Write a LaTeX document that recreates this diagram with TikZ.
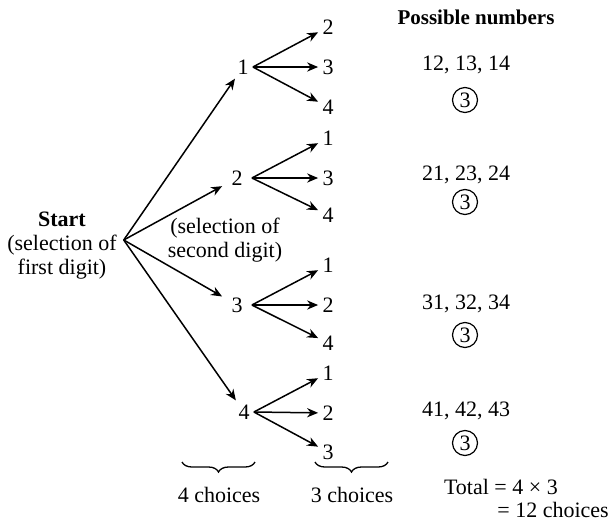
\documentclass[tikz,border=0pt]{standalone}
\usepackage{fontspec}
\setmainfont{Liberation Serif}
\usepackage{tikz}
\usetikzlibrary{arrows.meta,decorations.pathreplacing}

\begin{document}
\begin{tikzpicture}[x=0.5pt,y=-0.5pt,
  every node/.style={font=\fontsize{11}{12}\selectfont},
  dig/.style={inner sep=2pt},
  ring/.style={draw,circle,line width=0.6pt,minimum size=12.5pt,inner sep=0pt},
  arr/.style={-{Stealth[length=5.5pt,width=4.6pt]},line width=0.75pt},
  brc/.style={decorate,decoration={brace,mirror,amplitude=5pt},line width=0.65pt}]
 \useasboundingbox (0,0) rectangle (610,520);
 \node[align=center] (start) at (62,246) {\textbf{Start}\\(selection of\\first digit)};
 \coordinate (root) at ([yshift=3pt]start.east);
 \node[align=center] (sel2) at (225,240) {(selection of\\second digit)};
 % first digit
 \node[dig] (a1) at (243,67) {1};
 \node[dig,inner xsep=4.5pt] (a2) at (237,178) {2};
 \node[dig,inner xsep=4.5pt] (a3) at (237,305) {3};
 \node[dig] (a4) at (244,412) {4};
 \draw[arr] (root) -- (a1);  \draw[arr] (root) -- (a2);
 \draw[arr] (root) -- (a3);  \draw[arr] (root) -- (a4);
 % second digit
 \node[dig] (b11) at (328,27) {2};   \node[dig] (b12) at (328,67) {3};   \node[dig] (b13) at (328,107) {4};
 \node[dig] (b21) at (328,138) {1};  \node[dig] (b22) at (328,178) {3};  \node[dig] (b23) at (328,215) {4};
 \node[dig] (b31) at (328,265) {1};  \node[dig] (b32) at (328,305) {2};  \node[dig] (b33) at (328,343) {4};
 \node[dig] (b41) at (328,373) {1};  \node[dig] (b42) at (328,413) {2};  \node[dig] (b43) at (328,452) {3};
 \draw[arr] (a1.east) -- (b11);  \draw[arr] (a1.east) -- (b12);  \draw[arr] (a1.east) -- (b13);
 \draw[arr] (a2.east) -- (b21);  \draw[arr] (a2.east) -- (b22);  \draw[arr] (a2.east) -- (b23);
 \draw[arr] (a3.east) -- (b31);  \draw[arr] (a3.east) -- (b32);  \draw[arr] (a3.east) -- (b33);
 \draw[arr] (a4.east) -- (b41);  \draw[arr] (a4.east) -- (b42);  \draw[arr] (a4.east) -- (b43);
 % possible numbers
 \node[font=\fontsize{10.5}{12}\selectfont\bfseries] (head) at (476,17) {Possible numbers};
 \node (num1) at (466,65) {12, 13, 14};   \node[ring] (cnt1) at (465,100) {3};
 \node (num2) at (466,175) {21, 23, 24};  \node[ring] (cnt2) at (465,202) {3};
 \node (num3) at (466,304) {31, 32, 34};  \node[ring] (cnt3) at (465,335) {3};
 \node (num4) at (466,411) {41, 42, 43};  \node[ring] (cnt4) at (465,443) {3};
 % choices
 \draw[brc] (182,462) -- (255,462);
 \draw[brc] (315,462) -- (388,462);
 \node (ch1) at (219,495) {4 choices};
 \node (ch2) at (352,495) {3 choices};
 \node[anchor=west] (total) at (437,487) {Total = 4 × 3};
 \node[anchor=west,inner sep=1pt] (sum) at (495,510) {= 12 choices};
\end{tikzpicture}
\end{document}
